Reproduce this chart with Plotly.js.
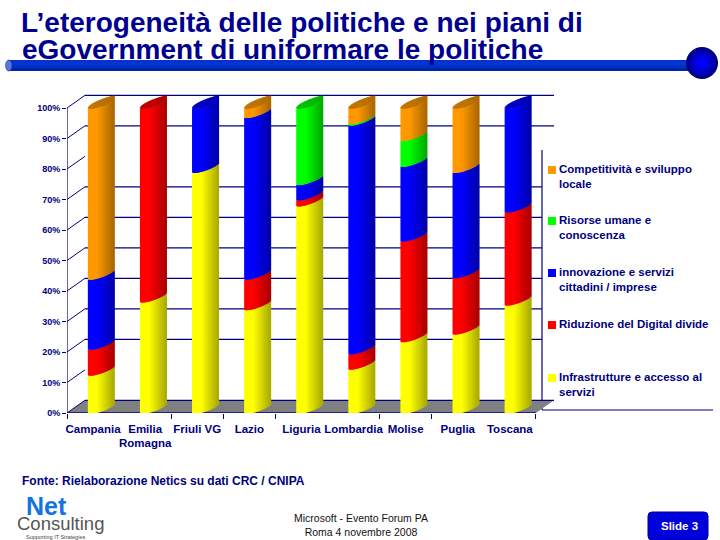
<!DOCTYPE html>
<html><head><meta charset="utf-8">
<script src="https://cdn.plot.ly/plotly-3.0.1.min.js"></script>
<style>html,body{margin:0;padding:0;background:#fff}#c{width:720px;height:540px}</style>
</head><body><div id="c"></div>
<script>
// ---- data ----
const categories = ['Campania','Emilia<br>Romagna','Friuli VG','Lazio','Liguria','Lombardia','Molise','Puglia','Toscana'];
const infrastrutture = [12.5,36.5,79,34,68,14.5,23.5,26,35.5];
const riduzione      = [8.5,63.5,0,10,2,5,33,18.5,30.5];
const innovazione    = [23,0,21,53,5,75,24.5,34.5,34];
const risorse        = [0,0,0,0,25,0.5,8.5,0,0];
const competitivita  = [56,0,0,3,0,5,10.5,21,0];
const seriesValues = [infrastrutture,riduzione,innovazione,risorse,competitivita];
const seriesRGB = [[255,255,0],[255,0,0],[0,0,255],[0,255,0],[255,153,0]];
const legendLabels = ['Competitività e sviluppo<br>locale','Risorse umane e<br>conoscenza','innovazione e servizi<br>cittadini / imprese','Riduzione del Digital divide','Infrastrutture e accesso al<br>servizi'];
const legendColors = ['#ff9900','#00ff00','#0000ff','#ff0000','#ffff00'];
const yTicks = [0,10,20,30,40,50,60,70,80,90,100];
const wallLines = [100,90,70,60,50,40,30,20,0];

// ---- geometry of the fake 3D look ----
const NAVY='#000080';
const L=67,R=554,T=90,B=413, PXX=52.1, PXY=3.05, BW=27, NS=27;
const px=x=>(x-L)/(R-L), py=y=>(B-y)/(B-T);
const round=t=>Math.sqrt(Math.max(0,1-(2*t-1)*(2*t-1)));
const lower=t=>(9*t-3*round(t))/PXY;
const upper=t=>(12*Math.sqrt(t)*0.5+6*t+4*round(t)*0.35)/PXY;
const mix=(c,f)=>'rgb('+c.map(v=>Math.round(v*f)).join(',')+')';
const shade=t=>t<0.35?1:1-(t-0.35)/0.65*0.33;
const stripeX=(c,t)=>c+1+8.3/PXX+(t-.5)*(BW-1)/PXX;

const traces=seriesValues.map((vals,si)=>{
  const x=[],y=[],base=[],col=[];
  categories.forEach((_,c)=>{
    let cum=0; for(let k=0;k<si;k++)cum+=seriesValues[k][c];
    if(vals[c]<=0)return;
    for(let s=0;s<NS;s++){
      const t=(s+.5)/NS;
      x.push(stripeX(c,t));
      base.push(cum+lower(t)); y.push(vals[c]); col.push(mix(seriesRGB[si],shade(t)));
    }
  });
  return {type:'bar',x,y,base,width:2/PXX,marker:{color:col,line:{width:0}},cliponaxis:false,showlegend:false,hoverinfo:'skip'};
});
// cylinder caps
(function(){
  const x=[],y=[],base=[],col=[];
  categories.forEach((_,c)=>{
    let top=0; seriesValues.forEach((v,k)=>{if(v[c]>0)top=k;});
    for(let s=0;s<NS;s++){
      const t=(s+.5)/NS;
      x.push(stripeX(c,t));
      const lo=lower(t),up=Math.max(upper(t),lo);
      base.push(100+lo); y.push(up-lo); col.push(mix(seriesRGB[top],0.78-0.08*t));
    }
  });
  traces.push({type:'bar',x,y,base,width:2/PXX,marker:{color:col,line:{width:0}},cliponaxis:false,showlegend:false,hoverinfo:'skip'});
})();

const shapes=[];
const dx=18/PXX, dy=12.7/PXY, x0=0.5, xEnd=0.5+(R-L)/PXX;
// floor
shapes.push({type:'path',xref:'x',yref:'y',layer:'below',path:`M${x0},0L${x0+dx},${dy}L${xEnd},${dy}L9.5,0Z`,fillcolor:'#808080',line:{width:0}});
// wall grid & diagonals
yTicks.forEach(v=>shapes.push({type:'line',xref:'x',yref:'y',layer:'below',x0:x0,x1:x0+dx,y0:v,y1:v+dy,line:{color:NAVY,width:1}}));
wallLines.forEach(v=>{
  const end=(v>=90||v===0)?xEnd:0.5+(542-L)/PXX;
  shapes.push({type:'line',xref:'x',yref:'y',layer:'below',x0:x0+dx,x1:end,y0:v+dy,y1:v+dy,line:{color:NAVY,width:1.2}});
});
shapes.push({type:'line',xref:'x',yref:'y',layer:'below',x0:x0,x1:x0,y0:0,y1:100,line:{color:NAVY,width:1.2}});
shapes.push({type:'line',xref:'x',yref:'y',layer:'below',x0:x0,x1:9.5,y0:0,y1:0,line:{color:NAVY,width:1.5}});
// legend frame
shapes.push({type:'line',xref:'paper',yref:'paper',layer:'below',x0:px(542),x1:px(542),y0:py(150),y1:py(410),line:{color:NAVY,width:1.2}});
shapes.push({type:'line',xref:'paper',yref:'paper',layer:'below',x0:px(542),x1:px(713),y0:py(410),y1:py(410),line:{color:NAVY,width:1}});
// legend swatches + labels
const annotations=[];
const legendY=[170,221,273,325,378];
legendLabels.forEach((txt,i)=>{
  shapes.push({type:'rect',xref:'paper',yref:'paper',x0:px(548),x1:px(556),y0:py(legendY[i]-4),y1:py(legendY[i]+4),fillcolor:legendColors[i],line:{width:0}});
  annotations.push({xref:'paper',yref:'paper',x:px(558),y:py(legendY[i]-8),xanchor:'left',yanchor:'top',align:'left',showarrow:false,text:txt,borderpad:0,font:{family:'Liberation Sans',size:11.5,color:NAVY,weight:700}});
});
// header tube and ball
[[60,'#0a30c8'],[62,'#0036d4'],[65,'#0030c4'],[68,'#0024a8']].forEach(([y,c],i,a)=>{
  const y2=i<a.length-1?a[i+1][0]:71;
  shapes.push({type:'rect',xref:'paper',yref:'paper',x0:px(8),x1:px(690),y0:py(y),y1:py(y2),fillcolor:c,line:{width:0}});
});
shapes.push({type:'circle',xref:'paper',yref:'paper',x0:px(5.5),x1:px(12),y0:py(60),y1:py(71),fillcolor:'#5a78d8',line:{color:'#0020a8',width:.5}});
[[16,'#00007a'],[14.5,'#000090'],[12.5,'#0000b0'],[10,'#0000d0'],[7,'#0000ee'],[4,'#0000ff']].forEach(([r,c])=>{
  shapes.push({type:'circle',xref:'paper',yref:'paper',x0:px(702-r),x1:px(702+r),y0:py(63-r),y1:py(63+r),fillcolor:c,line:{width:0}});
});
// slide badge
(function(){
  const a=648,b=708,c=512,d=540,r=4;
  const X=v=>px(v),Y=v=>py(v);
  shapes.push({type:'path',xref:'paper',yref:'paper',fillcolor:'#0000dd',line:{color:'#000090',width:1},
    path:`M${X(a+r)},${Y(c)}L${X(b-r)},${Y(c)}Q${X(b)},${Y(c)} ${X(b)},${Y(c+r)}L${X(b)},${Y(d-r)}Q${X(b)},${Y(d)} ${X(b-r)},${Y(d)}L${X(a+r)},${Y(d)}Q${X(a)},${Y(d)} ${X(a)},${Y(d-r)}L${X(a)},${Y(c+r)}Q${X(a)},${Y(c)} ${X(a+r)},${Y(c)}Z`});
})();
function note(text,x,y,size,color,opts,family,weight){
  annotations.push(Object.assign({xref:'paper',yref:'paper',x:px(x),y:py(y),xanchor:'left',yanchor:'middle',showarrow:false,align:'left',text,borderpad:0,
    font:{family:family||'Liberation Sans',size,color,weight:weight||400}},opts||{}));
}
note('eGovernment di uniformare le politiche',21,49,28,'#000090',null,null,700);
note('Fonte: Rielaborazione Netics su dati CRC / CNIPA',21,481,12,NAVY,null,null,700);
note('Consulting',16,523,18.5,'#555555');
note('Net',25,506,25,'#1274e4',null,null,700);
note('Supporting IT Strategies',25,536.5,5.5,'#444444');
note('Microsoft - Evento Forum PA<br>Roma 4 novembre 2008',361,524.5,10.5,'#111111',{xanchor:'center',align:'center'});
note('Slide 3',679,526,11.5,'#ffffff',{xanchor:'center',align:'center'},null,700);

const layout={
  width:720,height:540,paper_bgcolor:'#fff',plot_bgcolor:'rgba(0,0,0,0)',
  margin:{l:L,r:720-R,t:T,b:540-B,pad:0},
  barmode:'overlay',showlegend:false,hovermode:false,
  title:{text:'L’eterogeneità delle politiche e nei piani di',x:21/720,xanchor:'left',xref:'container',y:1-22/540,yanchor:'middle',
    font:{family:'Liberation Sans',size:28,color:'#000090',weight:700}},
  xaxis:{range:[x0,xEnd],tickmode:'array',tickvals:categories.map((_,i)=>i+1),ticktext:categories,
    showgrid:false,zeroline:false,showline:false,ticks:'',tickangle:0,automargin:false,
    tickfont:{family:'Liberation Sans',size:11.5,color:NAVY,weight:700},
    ticklabelstandoff:7,
    minor:{tickmode:'array',tickvals:[0.5,2.5,3.5,4.5,6.5,7.5,9.5],ticks:'outside',ticklen:5,tickcolor:NAVY,tickwidth:1,showgrid:false}},
  yaxis:{range:[0,(B-T)/PXY],tickmode:'array',tickvals:yTicks,ticktext:yTicks.map(v=>v+'%'),
    showgrid:false,zeroline:false,showline:false,ticks:'outside',ticklen:4,tickcolor:NAVY,tickwidth:1,automargin:false,
    tickfont:{family:'Liberation Sans',size:9,color:NAVY,weight:700}},
  shapes,annotations
};
Plotly.newPlot('c',traces,layout,{displayModeBar:false,staticPlot:true});
</script></body></html>
